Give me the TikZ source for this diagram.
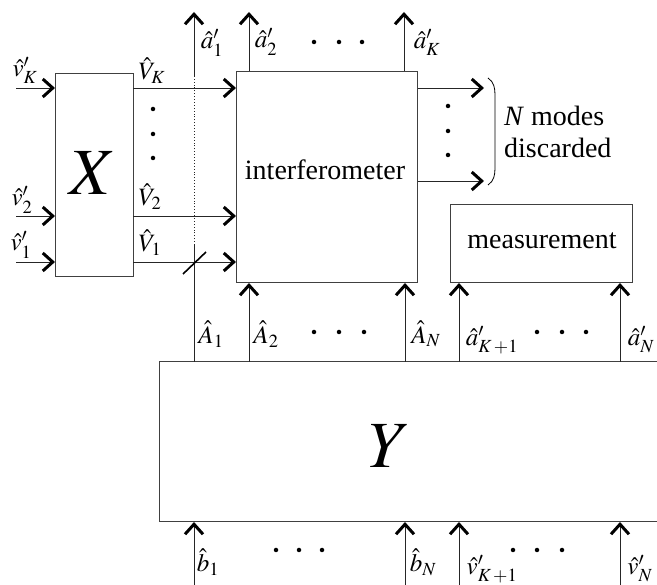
\documentclass[tikz,border=0pt]{standalone}
\usepackage{mathptmx}
\usepackage{fontspec}
\setmainfont{Liberation Serif}
\usetikzlibrary{arrows.meta}
\begin{document}
\begin{tikzpicture}[x=1pt,y=-1pt,
  tipA/.tip={Straight Barb[length=10pt 0 0,width=18pt 0 0,line width=3pt 0 0,black]},
  arr/.style={-tipA, line width=0.9pt, black!85},
  ln/.style={line width=0.9pt, black!85},
  box/.style={draw=black!75, line width=1pt, inner sep=0, anchor=north west},
  lbl/.style={font=\fontsize{25}{28}\selectfont, inner sep=0},
  txt/.style={font=\fontsize{28}{32}\selectfont, inner sep=0, anchor=base},
  dot/.style={circle, fill=black, inner sep=0, minimum size=4.5pt}]
\useasboundingbox (0,0) rectangle (657,585);

% boxes
\node[box, minimum width=78pt, minimum height=203pt] (X) at (55,73) {};
\node[font=\fontsize{66}{70}\selectfont\itshape, inner sep=0, anchor=base] (Xl) at (93,195) {$X$};
\node[box, minimum width=181pt, minimum height=211pt] (I) at (236,71) {};
\node[txt] (Il) at (325,180) {interferometer};
\node[box, minimum width=182pt, minimum height=78pt] (M) at (450,204) {};
\node[txt] (Ml) at (542,249) {measurement};
% Y box, open on the right
\coordinate (Ytl) at (159,362);
\coordinate (Ybl) at (159,522);
\coordinate (Ytr) at (657,362);
\coordinate (Ybr) at (657,522);
\draw[draw=black!75, line width=1pt] (Ytr) -- (Ytl) -- (Ybl) -- (Ybr);
\node[font=\fontsize{66}{70}\selectfont\itshape, inner sep=0, anchor=base] (Yl) at (390,468) {$Y$};

% inputs to X
\coordinate (iK) at (16,88);
\coordinate (i2) at (16,216);
\coordinate (i1) at (16,262);
\draw[arr] (iK) -- (iK -| X.west);
\draw[arr] (i2) -- (i2 -| X.west);
\draw[arr] (i1) -- (i1 -| X.west);
\node[lbl] (lvK) at (25,70) {$\hat{v}'_K$};
\node[lbl] (lv2) at (22,200) {$\hat{v}'_2$};
\node[lbl] (lv1) at (21,245) {$\hat{v}'_1$};

% X outputs to interferometer
\coordinate (oK) at (133,88);
\coordinate (o2) at (133,216);
\coordinate (o1) at (133,262);
\draw[arr, line width=0.6pt] (oK) -- (oK -| I.west);
\draw[arr] (o2) -- (o2 -| I.west);
\draw[arr, line width=0.6pt] (o1) -- (o1 -| I.west);
\node[lbl] (lVK) at (152,71) {$\hat{V}_K$};
\node[lbl] (lV2) at (150,197) {$\hat{V}_2$};
\node[lbl] (lV1) at (150,243) {$\hat{V}_1$};
\node[dot] (d1) at (153,109) {};
\node[dot] (d2) at (153,134) {};
\node[dot] (d3) at (153,158) {};

% A1 line with dotted bypass
\coordinate (A1b) at (194,362);
\coordinate (A1m) at (194,245);
\coordinate (A1d) at (194,77);
\coordinate (A1t) at (194,12);
\draw[ln] (A1b) -- (A1m);
\draw[ln, dotted, line width=1pt] (A1m) -- (A1d);
\draw[arr] (A1d) -- (A1t);
\coordinate (s1) at (183,274);
\coordinate (s2) at (206,252);
\draw[line width=1.6pt] (s1) -- (s2);
\node[lbl] (la1) at (212,43) {$\hat{a}'_1$};

% interferometer top outputs
\coordinate (t2) at (249,12);
\coordinate (tK) at (404,12);
\draw[arr] (t2 |- I.north) -- (t2);
\draw[arr] (tK |- I.north) -- (tK);
\node[lbl] (la2) at (266,42) {$\hat{a}'_2$};
\node[lbl] (laK) at (427,42) {$\hat{a}'_K$};
\node[dot] (td1) at (314,42) {};
\node[dot] (td2) at (339,42) {};
\node[dot] (td3) at (362,42) {};

% discarded outputs
\coordinate (rK) at (484,88);
\coordinate (rN) at (484,181);
\draw[arr, line width=0.6pt] (rK -| I.east) -- (rK);
\draw[arr, line width=0.6pt] (rN -| I.east) -- (rN);
\node[dot] (rd1) at (448,106) {};
\node[dot] (rd2) at (448,131) {};
\node[dot] (rd3) at (448,155) {};
\coordinate (b1) at (488,78);
\coordinate (b2) at (495,95);
\coordinate (b3) at (495,168);
\coordinate (b4) at (488,185);
\draw[line width=0.8pt] (b1) .. controls (494,82) and (495,88) .. (b2) -- (b3) .. controls (495,175) and (494,181) .. (b4);
\node[txt, anchor=base west] (Nm) at (504,126) {\textit{N} modes};
\node[txt, anchor=base west] (Nd) at (504,158) {discarded};

% Y to interferometer / measurement
\coordinate (u2) at (249,362);
\coordinate (uN) at (405,362);
\coordinate (uK) at (459,362);
\coordinate (uM) at (620,362);
\draw[arr] (u2) -- (u2 |- I.south);
\draw[arr] (uN) -- (uN |- I.south);
\draw[arr] (uK) -- (uK |- M.south);
\draw[arr] (uM) -- (uM |- M.south);
\node[lbl] (lA1) at (211,334) {$\hat{A}_1$};
\node[lbl] (lA2) at (266,334) {$\hat{A}_2$};
\node[lbl] (lAN) at (426,334) {$\hat{A}_N$};
\node[lbl] (laK1) at (492,340) {$\hat{a}'_{K\,+1}$};
\node[lbl] (laN) at (641,340) {$\hat{a}'_N$};
\node[dot] (md1) at (314,332) {};
\node[dot] (md2) at (339,332) {};
\node[dot] (md3) at (364,332) {};
\node[dot] (md4) at (537,332) {};
\node[dot] (md5) at (562,332) {};
\node[dot] (md6) at (586,332) {};

% inputs to Y
\coordinate (w1) at (194,585);
\coordinate (wN) at (405,585);
\coordinate (wK) at (459,585);
\coordinate (wM) at (620,585);
\draw[arr] (w1) -- (w1 |- Ybl);
\draw[arr] (wN) -- (wN |- Ybl);
\draw[arr] (wK) -- (wK |- Ybl);
\draw[arr] (wM) -- (wM |- Ybl);
\node[lbl] (lb1) at (208,562) {$\hat{b}_1$};
\node[lbl] (lbN) at (423,562) {$\hat{b}_N$};
\node[lbl] (lvK1) at (492,569) {$\hat{v}'_{K\,+1}$};
\node[lbl] (lvN) at (640,569) {$\hat{v}'_N$};
\node[dot] (bd1) at (276,550) {};
\node[dot] (bd2) at (299,550) {};
\node[dot] (bd3) at (322,550) {};
\node[dot] (bd4) at (513,550) {};
\node[dot] (bd5) at (537,550) {};
\node[dot] (bd6) at (562,550) {};
\end{tikzpicture}
\end{document}
